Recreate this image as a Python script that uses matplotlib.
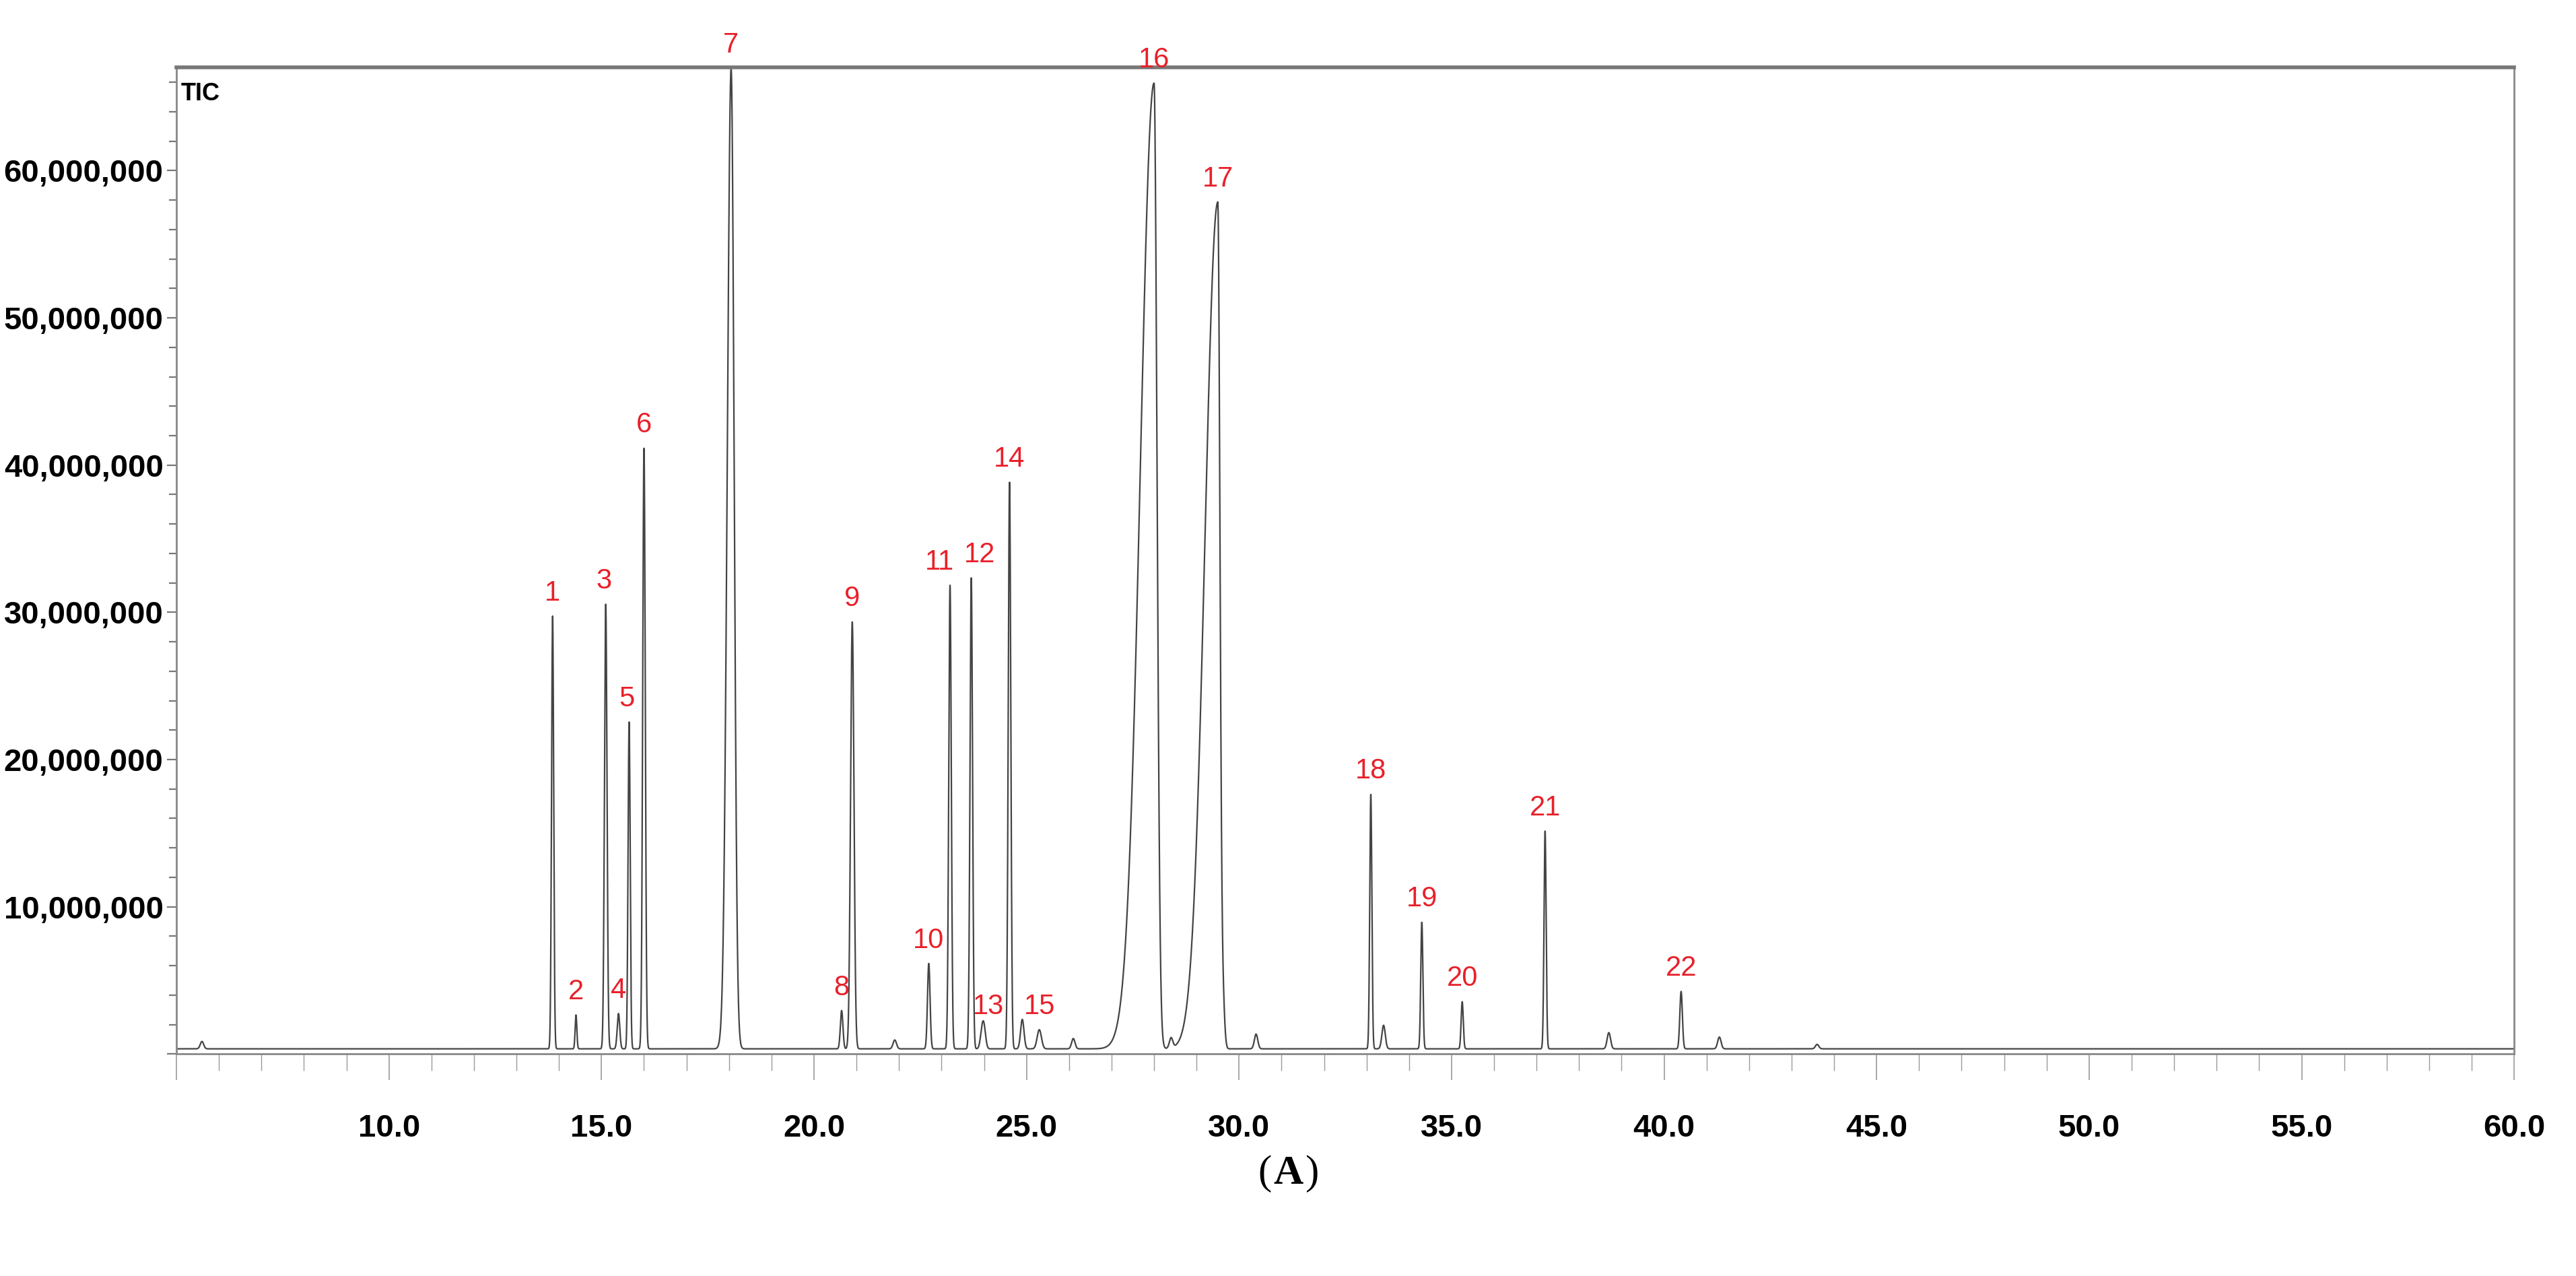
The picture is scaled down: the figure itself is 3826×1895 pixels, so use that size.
import numpy as np
import matplotlib.pyplot as plt
from matplotlib.ticker import MultipleLocator, FuncFormatter

# peak retention times (min), heights, left/right widths (sigma, min)
peak_rt = [13.85, 14.4, 15.1, 15.4, 15.65, 16.0, 18.05, 20.65, 20.9, 22.7,
           23.2, 23.7, 24.0, 24.6, 25.3, 28.0, 29.5, 33.1, 34.3, 35.25, 37.2, 40.4]
peak_h = [29.4e6, 2.3e6, 30.2e6, 2.4e6, 22.2e6, 40.8e6, 66.6e6, 2.6e6, 29.0e6, 5.8e6,
          31.5e6, 32.0e6, 1.3e6, 38.5e6, 1.3e6, 65.6e6, 57.5e6, 17.3e6, 8.6e6, 3.2e6, 14.8e6, 3.9e6]
peak_sl = [0.025, 0.02, 0.03, 0.03, 0.025, 0.03, 0.09, 0.03, 0.04, 0.03,
           0.03, 0.03, 0.04, 0.03, 0.05, 0.32, 0.3, 0.025, 0.025, 0.025, 0.025, 0.03]
peak_sr = [0.025, 0.02, 0.03, 0.03, 0.025, 0.03, 0.07, 0.03, 0.04, 0.03,
           0.03, 0.03, 0.04, 0.03, 0.05, 0.07, 0.05, 0.025, 0.025, 0.025, 0.025, 0.03]
peak_labels = [str(i) for i in range(1, 23)]
label_dx = {'11': -0.25, '12': 0.2, '3': -0.05, '5': -0.05, '13': 0.1}

# small unlabelled peaks
minor_rt = [5.6, 21.9, 23.95, 24.9, 26.1, 28.4, 29.62, 30.4, 33.4, 38.7, 41.3, 43.6]
minor_h = [0.5e6, 0.6e6, 1.0e6, 2.0e6, 0.7e6, 0.7e6, 3.0e6, 1.0e6, 1.6e6, 1.1e6, 0.8e6, 0.3e6]

baseline = 0.35e6

t = np.linspace(5.0, 60.0, 22000)
y = np.full_like(t, baseline)
for rt, h, sl, sr in zip(peak_rt, peak_h, peak_sl, peak_sr):
    s = np.where(t < rt, sl, sr)
    y += h * np.exp(-0.5 * ((t - rt) / s) ** 2)
for rt, h in zip(minor_rt, minor_h):
    y += h * np.exp(-0.5 * ((t - rt) / 0.04) ** 2)

plt.rcParams['font.family'] = ['Liberation Sans', 'DejaVu Sans']
fig = plt.figure(figsize=(19.13, 9.475), dpi=200)
ax = fig.add_axes([0.0685, 0.174, 0.9075, 0.773])

ax.plot(t, y, color='#444444', lw=0.8)
ax.set_xlim(5.0, 60.0)
ax.set_ylim(0, 67e6)

for lab, rt, h in zip(peak_labels, peak_rt, peak_h):
    ax.text(rt + label_dx.get(lab, 0), h + 1.0e6, lab, color='#e8202a', fontsize=15,
            ha='center', va='bottom', clip_on=False)

ax.xaxis.set_major_locator(MultipleLocator(5))
ax.xaxis.set_minor_locator(MultipleLocator(1))
ax.yaxis.set_major_locator(MultipleLocator(10e6))
ax.yaxis.set_minor_locator(MultipleLocator(2e6))
ax.xaxis.set_major_formatter(FuncFormatter(lambda v, p: '' if v < 9 else '%.1f' % v))
ax.yaxis.set_major_formatter(FuncFormatter(lambda v, p: '' if v == 0 else '{:,.0f}'.format(v)))

ax.tick_params(axis='x', which='major', length=14, width=0.6, color='#999999',
               labelsize=17, pad=18)
ax.tick_params(axis='x', which='minor', length=9, width=0.5, color='#999999')
ax.tick_params(axis='y', which='major', length=5, width=0.8, color='#777777',
               labelsize=17, pad=2)
ax.tick_params(axis='y', which='minor', length=4, width=0.8, color='#777777')
for lbl in ax.get_xticklabels() + ax.get_yticklabels():
    lbl.set_fontweight('bold')

for side in ['left', 'right', 'bottom']:
    ax.spines[side].set_color('#888888')
    ax.spines[side].set_linewidth(1.0)
ax.spines['top'].set_color('#777777')
ax.spines['top'].set_linewidth(2.0)

ax.text(0.002, 0.985, 'TIC', transform=ax.transAxes, fontsize=13,
        fontweight='bold', ha='left', va='top')

fig.text(0.4935, 0.08, '(', fontsize=22, ha='right', va='center', family='Liberation Serif')
fig.text(0.5, 0.08, 'A', fontsize=22, ha='center', va='center', family='Liberation Serif',
         fontweight='bold')
fig.text(0.5065, 0.08, ')', fontsize=22, ha='left', va='center', family='Liberation Serif')

fig.savefig('out.png', dpi=200)
